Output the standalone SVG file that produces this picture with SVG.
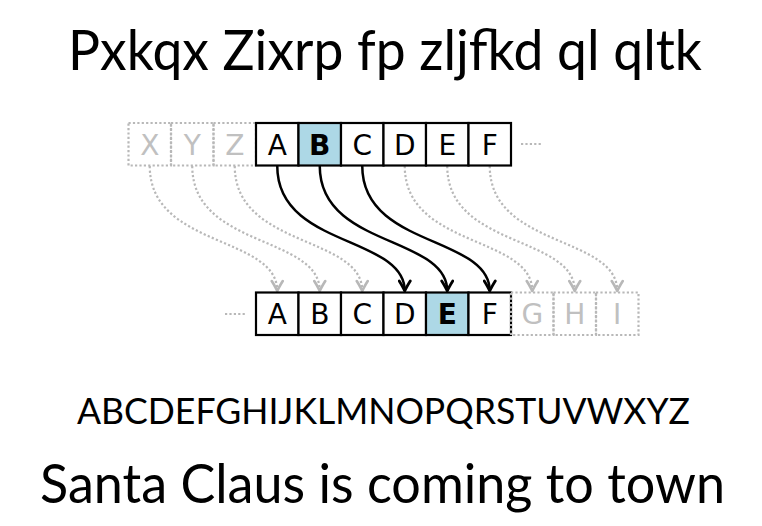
<svg xmlns="http://www.w3.org/2000/svg" width="762" height="526" viewBox="0 0 762 526">
<defs>
<style>
.box{fill:#fff;stroke:#000;stroke-width:2.2}
.hl{fill:#add8e6;stroke:#000;stroke-width:2.2}
.gbox{fill:none;stroke:#b8b8b8;stroke-width:2.2;stroke-dasharray:2.2 2.2}
.lt{font-family:"DejaVu Sans","Verdana",sans-serif;font-size:28px;text-anchor:middle;fill:#000}
.lb{font-weight:bold}
.lg{fill:#c0c0c0}
.arr{fill:none;stroke:#000;stroke-width:2.5}
.garr{fill:none;stroke:#b8b8b8;stroke-width:2.2;stroke-dasharray:2.2 2.2}
.dots{stroke:#b8b8b8;stroke-width:2.2;stroke-dasharray:2.2 2.2}
.big{font-family:Lato,"Open Sans",sans-serif;text-anchor:middle;fill:#000}
</style>
<marker id="ah" markerUnits="userSpaceOnUse" viewBox="-12 -7 14 14" refX="0" refY="0" markerWidth="14" markerHeight="14" orient="auto">
<path d="M-10,-5.5 Q-3.5,-1.5 0,0 Q-3.5,1.5 -10,5.5" fill="none" stroke="#000" stroke-width="2.8" stroke-linecap="round" stroke-linejoin="round"/>
</marker>
<marker id="gah" markerUnits="userSpaceOnUse" viewBox="-12 -7 14 14" refX="0" refY="0" markerWidth="14" markerHeight="14" orient="auto">
<path d="M-10,-5.5 Q-3.5,-1.5 0,0 Q-3.5,1.5 -10,5.5" fill="none" stroke="#b8b8b8" stroke-width="2.6" stroke-linecap="round" stroke-linejoin="round"/>
</marker>
</defs>
<rect width="762" height="526" fill="#fff"/>

<text id="title" class="big" x="385" y="70" font-size="56" textLength="634" lengthAdjust="spacingAndGlyphs">Pxkqx Zixrp fp zljfkd ql qltk</text>

<g id="connectors">
<path class="garr" marker-end="url(#gah)" d="M149.75,166 C149.75,248 277.25,235.4 277.25,291"/>
<path class="garr" marker-end="url(#gah)" d="M192.25,166 C192.25,248 319.75,235.4 319.75,291"/>
<path class="garr" marker-end="url(#gah)" d="M234.75,166 C234.75,248 362.25,235.4 362.25,291"/>
<path class="garr" marker-end="url(#gah)" d="M404.75,166 C404.75,248 532.25,235.4 532.25,291"/>
<path class="garr" marker-end="url(#gah)" d="M447.25,166 C447.25,248 574.75,235.4 574.75,291"/>
<path class="garr" marker-end="url(#gah)" d="M489.75,166 C489.75,248 617.25,235.4 617.25,291"/>
<path class="arr" marker-end="url(#ah)" d="M277.25,166 C277.25,248 404.75,235.4 404.75,291"/>
<path class="arr" marker-end="url(#ah)" d="M319.75,166 C319.75,248 447.25,235.4 447.25,291"/>
<path class="arr" marker-end="url(#ah)" d="M362.25,166 C362.25,248 489.75,235.4 489.75,291"/>
<line class="dots" x1="521" y1="144" x2="543" y2="144"/>
<line class="dots" x1="225" y1="314" x2="247" y2="314"/>
</g>

<g id="top-row">
<g id="t-X"><rect class="gbox" x="128.5" y="123" width="42.5" height="42.5"/><text class="lt lg" x="149.75" y="154.5">X</text></g>
<g id="t-Y"><rect class="gbox" x="171" y="123" width="42.5" height="42.5"/><text class="lt lg" x="192.25" y="154.5">Y</text></g>
<g id="t-Z"><rect class="gbox" x="213.5" y="123" width="42.5" height="42.5"/><text class="lt lg" x="234.75" y="154.5">Z</text></g>
<g id="t-A"><rect class="box" x="256" y="123" width="42.5" height="42.5"/><text class="lt" x="277.25" y="154.5">A</text></g>
<g id="t-B"><rect class="hl" x="298.5" y="123" width="42.5" height="42.5"/><text class="lt lb" x="319.75" y="154.5">B</text></g>
<g id="t-C"><rect class="box" x="341" y="123" width="42.5" height="42.5"/><text class="lt" x="362.25" y="154.5">C</text></g>
<g id="t-D"><rect class="box" x="383.5" y="123" width="42.5" height="42.5"/><text class="lt" x="404.75" y="154.5">D</text></g>
<g id="t-E"><rect class="box" x="426" y="123" width="42.5" height="42.5"/><text class="lt" x="447.25" y="154.5">E</text></g>
<g id="t-F"><rect class="box" x="468.5" y="123" width="42.5" height="42.5"/><text class="lt" x="489.75" y="154.5">F</text></g>
</g>

<g id="bottom-row">
<g id="b-A"><rect class="box" x="256" y="292.5" width="42.5" height="42.5"/><text class="lt" x="277.25" y="324">A</text></g>
<g id="b-B"><rect class="box" x="298.5" y="292.5" width="42.5" height="42.5"/><text class="lt" x="319.75" y="324">B</text></g>
<g id="b-C"><rect class="box" x="341" y="292.5" width="42.5" height="42.5"/><text class="lt" x="362.25" y="324">C</text></g>
<g id="b-D"><rect class="box" x="383.5" y="292.5" width="42.5" height="42.5"/><text class="lt" x="404.75" y="324">D</text></g>
<g id="b-E"><rect class="hl" x="426" y="292.5" width="42.5" height="42.5"/><text class="lt lb" x="447.25" y="324">E</text></g>
<g id="b-F"><rect class="box" x="468.5" y="292.5" width="42.5" height="42.5"/><text class="lt" x="489.75" y="324">F</text></g>
<g id="b-G"><rect class="gbox" x="511" y="292.5" width="42.5" height="42.5"/><text class="lt lg" x="532.25" y="324">G</text></g>
<g id="b-H"><rect class="gbox" x="553.5" y="292.5" width="42.5" height="42.5"/><text class="lt lg" x="574.75" y="324">H</text></g>
<g id="b-I"><rect class="gbox" x="596" y="292.5" width="42.5" height="42.5"/><text class="lt lg" x="617.25" y="324">I</text></g>
</g>

<text id="alphabet" class="big" x="383.5" y="424" font-size="36" textLength="613" lengthAdjust="spacingAndGlyphs">ABCDEFGHIJKLMNOPQRSTUVWXYZ</text>
<text id="plain" class="big" x="382.5" y="503" font-size="54" textLength="685" lengthAdjust="spacingAndGlyphs">Santa Claus is coming to town</text>
</svg>
